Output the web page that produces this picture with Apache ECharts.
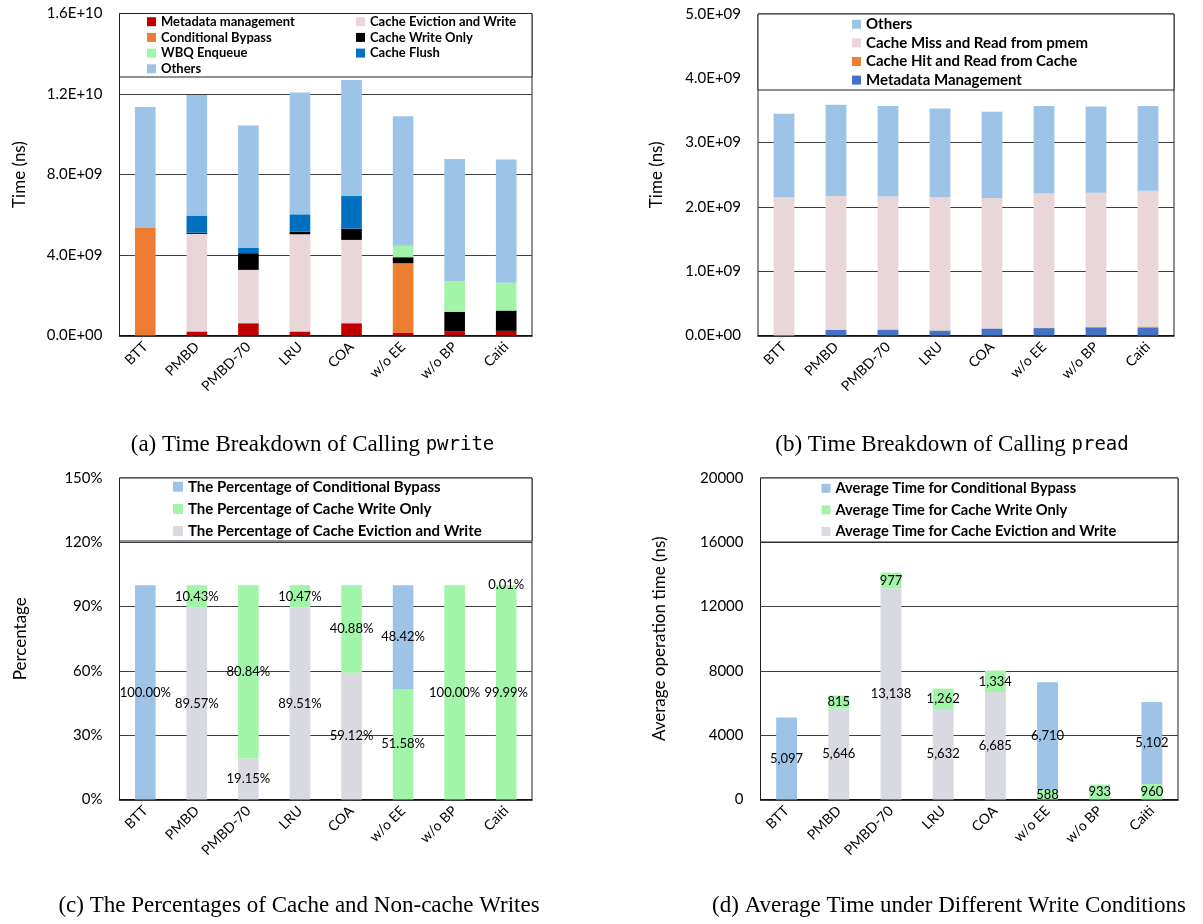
<!DOCTYPE html>
<html>
<head>
<meta charset="utf-8">
<script src="https://cdn.jsdelivr.net/npm/echarts@6/dist/echarts.min.js"></script>
<style>
  html, body { margin: 0; padding: 0; background: #fff; }
  #chart { width: 1203px; height: 924px; }
</style>
</head>
<body>
<div id="chart"></div>
<script>
// ---- data ----
const categories = ['BTT', 'PMBD', 'PMBD-70', 'LRU', 'COA', 'w/o EE', 'w/o BP', 'Caiti'];

// (a) pwrite time breakdown (ns)
const pwMeta      = [0, 0.20e9, 0.61e9, 0.20e9, 0.61e9, 0.15e9, 0.20e9, 0.23e9];
const pwEvict     = [0, 4.85e9, 2.65e9, 4.83e9, 4.14e9, 0, 0, 0];
const pwBypass    = [5.34e9, 0, 0, 0, 0, 3.44e9, 0, 0];
const pwWriteOnly = [0, 0.06e9, 0.83e9, 0.13e9, 0.56e9, 0.30e9, 0.98e9, 1.01e9];
const pwWbq       = [0, 0, 0, 0, 0, 0.60e9, 1.50e9, 1.38e9];
const pwFlush     = [0, 0.85e9, 0.26e9, 0.86e9, 1.62e9, 0.02e9, 0, 0];
const pwOthers    = [6.02e9, 5.99e9, 6.09e9, 6.06e9, 5.76e9, 6.38e9, 6.09e9, 6.13e9];

// (b) pread time breakdown (ns)
const prMeta   = [0, 0.090e9, 0.093e9, 0.078e9, 0.110e9, 0.115e9, 0.125e9, 0.125e9];
const prHit    = [0, 0, 0, 0, 0, 0.005e9, 0.012e9, 0.015e9];
const prMiss   = [2.15e9, 2.08e9, 2.067e9, 2.072e9, 2.03e9, 2.09e9, 2.083e9, 2.11e9];
const prOthers = [1.30e9, 1.42e9, 1.41e9, 1.38e9, 1.34e9, 1.36e9, 1.34e9, 1.32e9];

// (c) share of each write path (%)
const pctBypass    = [100, 0, 0, 0, 0, 48.42, 0, 0.01];
const pctWriteOnly = [0, 10.43, 80.84, 10.47, 40.88, 51.58, 100, 99.99];
const pctEvict     = [0, 89.57, 19.15, 89.51, 59.12, 0, 0, 0];

// (d) average time per write path (ns)
const avgBypass    = [5097, 0, 0, 0, 0, 6710, 0, 5102];
const avgWriteOnly = [0, 815, 977, 1262, 1334, 588, 933, 960];
const avgEvict     = [0, 5646, 13138, 5632, 6685, 0, 0, 0];

// ---- styling / layout ----
const FONT = 'Lato, "Open Sans", sans-serif';
const C = {
  others: '#9DC3E6', evictPink: '#E8D6D9', meta: '#C00000', bypassOrange: '#ED7D31',
  black: '#000000', green: '#A2F5A8', flush: '#0070C0', metaBlue: '#4472C4',
  gray: '#D9D9E1', bypassBlue: '#9DC3E6'
};
const grids = [
  { left: 119.5, top: 13.5, width: 412.5, height: 322 },
  { left: 758,   top: 14,   width: 416,   height: 321.5 },
  { left: 119.5, top: 478,  width: 412.5, height: 321.5 },
  { left: 760.5, top: 478,  width: 417.5, height: 321.5 }
];
const legendBoxH = [63.5, 76, 63, 64];

function sci(v) {
  if (v === 0) return '0.0E+00';
  const e = Math.floor(Math.log10(v) + 1e-9);
  const m = v / Math.pow(10, e);
  return m.toFixed(1) + 'E+' + String(e).padStart(2, '0');
}

function xAxisFor(i) {
  return {
    type: 'category', gridIndex: i, data: categories,
    axisTick: { show: false },
    axisLine: { lineStyle: { color: '#000', width: 1.5 } },
    axisLabel: { rotate: 45, interval: 0, fontSize: 14, fontFamily: FONT, color: '#000', margin: 9 }
  };
}
function yAxisFor(i, max, interval, formatter, name, nameGap) {
  return {
    type: 'value', gridIndex: i, min: 0, max, interval,
    splitLine: { lineStyle: { color: '#404040', width: 1 } },
    axisLine: { show: false }, axisTick: { show: false },
    axisLabel: { fontSize: 15, fontFamily: FONT, color: '#000', margin: 17, formatter },
    name, nameLocation: 'middle', nameGap, nameRotate: 90,
    nameTextStyle: { fontSize: 17, fontFamily: FONT, color: '#000' }
  };
}
function bar(name, data, color, gi, stack, label) {
  return {
    type: 'bar', name, data, xAxisIndex: gi, yAxisIndex: gi, stack,
    barWidth: '40%', itemStyle: { color }, label: label || { show: false },
    emphasis: { disabled: true }
  };
}
const pctLabel = {
  show: true, position: 'inside', color: '#000', fontSize: 13, fontFamily: FONT,
  textBorderWidth: 0, formatter: p => (p.value ? p.value.toFixed(2) + '%' : '')
};
const avgLabel = {
  show: true, position: 'inside', color: '#000', fontSize: 13, fontFamily: FONT,
  textBorderWidth: 0, formatter: p => (p.value ? p.value.toLocaleString('en-US') : '')
};

function legendCol(data, left, top, fontSize, itemGap, icon) {
  return {
    data, orient: 'vertical', left, top, padding: 0, itemGap,
    itemWidth: icon, itemHeight: icon, icon: 'rect', selectedMode: false,
    textStyle: { fontSize, fontWeight: 'bold', fontFamily: FONT, color: '#000' }
  };
}

const option = {
  animation: false,
  backgroundColor: '#fff',
  grid: grids.map(g => Object.assign({ show: true, borderColor: '#222', borderWidth: 1, outerBoundsMode: 'none' }, g)),
  xAxis: [0, 1, 2, 3].map(xAxisFor),
  yAxis: [
    yAxisFor(0, 1.6e10, 4e9, sci, 'Time (ns)', 91),
    yAxisFor(1, 5e9, 1e9, sci, 'Time (ns)', 93),
    yAxisFor(2, 150, 30, '{value}%', 'Percentage', 90),
    yAxisFor(3, 20000, 4000, v => String(v), 'Average operation time (ns)', 92)
  ],
  legend: [
    legendCol(['Metadata management', 'Conditional Bypass', 'WBQ Enqueue', 'Others'], 147, 15.2, 13, 2.7, 9),
    legendCol(['Cache Eviction and Write', 'Cache Write Only', 'Cache Flush'], 356, 15.2, 13, 2.7, 9),
    legendCol(['Others', 'Cache Miss and Read from pmem', 'Cache Hit and Read from Cache', 'Metadata Management'], 852, 16.8, 15, 3.6, 9),
    legendCol(['The Percentage of Conditional Bypass', 'The Percentage of Cache Write Only', 'The Percentage of Cache Eviction and Write'], 173, 479.2, 15, 7.2, 10),
    legendCol(['Average Time for Conditional Bypass', 'Average Time for Cache Write Only', 'Average Time for Cache Eviction and Write'], 821.5, 480.8, 14.7, 6.6, 9)
  ],
  series: [
    bar('Metadata management', pwMeta, C.meta, 0, 'a'),
    bar('Cache Eviction and Write', pwEvict, C.evictPink, 0, 'a'),
    bar('Conditional Bypass', pwBypass, C.bypassOrange, 0, 'a'),
    bar('Cache Write Only', pwWriteOnly, C.black, 0, 'a'),
    bar('WBQ Enqueue', pwWbq, C.green, 0, 'a'),
    bar('Cache Flush', pwFlush, C.flush, 0, 'a'),
    bar('Others', pwOthers, C.others, 0, 'a'),

    bar('Metadata Management', prMeta, C.metaBlue, 1, 'b'),
    bar('Cache Hit and Read from Cache', prHit, C.bypassOrange, 1, 'b'),
    bar('Cache Miss and Read from pmem', prMiss, C.evictPink, 1, 'b'),
    bar('Others', prOthers, C.others, 1, 'b'),

    bar('The Percentage of Cache Eviction and Write', pctEvict, C.gray, 2, 'c', pctLabel),
    bar('The Percentage of Cache Write Only', pctWriteOnly, C.green, 2, 'c', pctLabel),
    bar('The Percentage of Conditional Bypass', pctBypass, C.bypassBlue, 2, 'c', pctLabel),

    bar('Average Time for Cache Eviction and Write', avgEvict, C.gray, 3, 'd', avgLabel),
    bar('Average Time for Cache Write Only', avgWriteOnly, C.green, 3, 'd', avgLabel),
    bar('Average Time for Conditional Bypass', avgBypass, C.bypassBlue, 3, 'd', avgLabel)
  ],
  graphic: {
    elements: grids.map((g, i) => ({
      type: 'rect', z: 3, silent: true,
      shape: { x: g.left, y: g.top, width: g.width, height: legendBoxH[i] },
      style: { fill: '#fff', stroke: '#222', lineWidth: 1 }
    })).concat([
      ['(a) Time Breakdown of Calling ', 'pwrite', 312.5, 445],
      ['(b) Time Breakdown of Calling ', 'pread', 952, 445],
      ['(c) The Percentages of Cache and Non-cache Writes', '', 299, 906],
      ['(d) Average Time under Different Write Conditions', '', 949, 906]
    ].map(([serif, mono, x, y]) => ({
      type: 'text', x, y, z: 5, silent: true,
      style: {
        text: '{s|' + serif + '}' + (mono ? '{m|' + mono + '}' : ''),
        align: 'center', verticalAlign: 'middle',
        rich: {
          s: { fontFamily: '"Liberation Serif", serif', fontSize: 23, fill: '#000' },
          m: { fontFamily: '"DejaVu Sans Mono", monospace', fontSize: 19, fill: '#000' }
        }
      }
    })))
  }
};

const chart = echarts.init(document.getElementById('chart'), null, { renderer: 'canvas' });
chart.setOption(option);
</script>
</body>
</html>
